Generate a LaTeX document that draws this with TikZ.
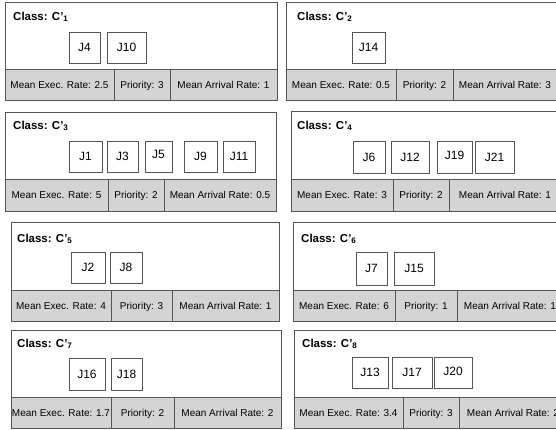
\documentclass[tikz,border=0pt]{standalone}
\usepackage{fontspec}
\setmainfont{Liberation Sans}
\usetikzlibrary{shadows}
\definecolor{band}{RGB}{212,212,212}
\definecolor{edge}{RGB}{85,85,85}
\begin{document}
\begin{tikzpicture}[x=1pt,y=-1pt,
  panel/.style={draw=edge, line width=0.8pt, fill=white},
  bandfill/.style={draw=edge, line width=0.8pt, fill=band},
  divider/.style={draw=edge, line width=0.8pt},
  job/.style={draw=edge, line width=0.7pt, fill=white, inner sep=0pt,
    drop shadow={shadow xshift=1pt,shadow yshift=-1pt,opacity=0.3},
    font=\fontsize{12}{14}\selectfont, text height=8.6pt, text depth=0pt},
  title/.style={anchor=base west, inner sep=0pt, font=\bfseries\fontsize{11.5}{13}\selectfont},
  info/.style={inner sep=0pt, font=\fontsize{10}{12}\selectfont, text height=7.2pt, text depth=0pt}]
\useasboundingbox (0,0) rectangle (556,429);
\clip (0,0) rectangle (556,429);
\fill[white] (0,0) rectangle (556,429);

% ---------- Panel 1 ----------
\draw[panel] (5,2) rectangle (277,100);
\draw[bandfill] (5,69) rectangle (277,100);
\draw[divider] (114,69) -- (114,100) (170,69) -- (170,100);
\node[title] (t1) at (13,20) {Class: C’\textsubscript{1}};
\node[job, minimum width=31pt, minimum height=31pt] (j4) at (84.5,47.5) {J4};
\node[job, minimum width=39pt, minimum height=31pt] (j10) at (126.5,47.5) {J10};
\node[info] (e1) at (59.5,85) {Mean Exec. Rate: 2.5};
\node[info] (p1) at (142,85) {Priority: 3};
\node[info] (a1) at (223.5,85) {Mean Arrival Rate: 1};

% ---------- Panel 2 ----------
\draw[panel] (286,2) rectangle (558,100);
\draw[bandfill] (286,69) rectangle (558,100);
\draw[divider] (396,69) -- (396,100) (453,69) -- (453,100);
\node[title] (t2) at (297,20) {Class: C’\textsubscript{2}};
\node[job, minimum width=33pt, minimum height=31pt] (j14) at (368.5,47.5) {J14};
\node[info] (e2) at (341,85) {Mean Exec. Rate: 0.5};
\node[info] (p2) at (424.5,85) {Priority: 2};
\node[info] (a2) at (505,85) {Mean Arrival Rate: 3};

% ---------- Panel 3 ----------
\draw[panel] (5,112) rectangle (276,211);
\draw[bandfill] (5,179) rectangle (276,211);
\draw[divider] (108,179) -- (108,211) (164,179) -- (164,211);
\node[title] (t3) at (13,129) {Class: C’\textsubscript{3}};
\node[job, minimum width=33pt, minimum height=31pt] (j1) at (85.5,156.5) {J1};
\node[job, minimum width=31pt, minimum height=31pt] (j3) at (122.5,156.5) {J3};
\node[job, minimum width=27pt, minimum height=31pt, text depth=5pt] (j5) at (158.5,156.5) {J5};
\node[job, minimum width=33pt, minimum height=31pt] (j9) at (200.5,156.5) {J9};
\node[job, minimum width=32pt, minimum height=31pt] (j11) at (239,156.5) {J11};
\node[info] (e3) at (56.5,195) {Mean Exec. Rate: 5};
\node[info] (p3) at (136,195) {Priority: 2};
\node[info] (a3) at (220,195) {Mean Arrival Rate: 0.5};

% ---------- Panel 4 ----------
\draw[panel] (291,111) rectangle (561,211);
\draw[bandfill] (291,179) rectangle (561,211);
\draw[divider] (393,179) -- (393,211) (449,179) -- (449,211);
\node[title] (t4) at (297,129) {Class: C’\textsubscript{4}};
\node[job, minimum width=32pt, minimum height=32pt] (j6) at (369,157) {J6};
\node[job, minimum width=38pt, minimum height=32pt] (j12) at (410,157) {J12};
\node[job, minimum width=35pt, minimum height=32pt, text depth=3pt] (j19) at (454.5,157) {J19};
\node[job, minimum width=39pt, minimum height=32pt] (j21) at (494.5,157) {J21};
\node[info] (e4) at (342,195) {Mean Exec. Rate: 3};
\node[info] (p4) at (421,195) {Priority: 2};
\node[info] (a4) at (505,195) {Mean Arrival Rate: 1};

% ---------- Panel 5 ----------
\draw[panel] (11,222) rectangle (279,321);
\draw[bandfill] (11,290) rectangle (279,321);
\draw[divider] (111,290) -- (111,321) (172,290) -- (172,321);
\node[title] (t5) at (17,242) {Class: C’\textsubscript{5}};
\node[job, minimum width=34pt, minimum height=31pt] (j2) at (88,267.5) {J2};
\node[job, minimum width=32pt, minimum height=31pt] (j8) at (126,267.5) {J8};
\node[info] (e5) at (61,305.5) {Mean Exec. Rate: 4};
\node[info] (p5) at (141.5,305.5) {Priority: 3};
\node[info] (a5) at (225.5,305.5) {Mean Arrival Rate: 1};

% ---------- Panel 6 ----------
\draw[panel] (293,222) rectangle (565,321);
\draw[bandfill] (293,290) rectangle (565,321);
\draw[divider] (395,290) -- (395,321) (457,290) -- (457,321);
\node[title] (t6) at (301,242) {Class: C’\textsubscript{6}};
\node[job, minimum width=31pt, minimum height=33pt] (j7) at (371.5,268.5) {J7};
\node[job, minimum width=40pt, minimum height=33pt] (j15) at (414,268.5) {J15};
\node[info] (e6) at (344,305.5) {Mean Exec. Rate: 6};
\node[info] (p6) at (426,305.5) {Priority: 1};
\node[info] (a6) at (510,305.5) {Mean Arrival Rate: 1};

% ---------- Panel 7 ----------
\draw[panel] (11,330) rectangle (281,428);
\draw[bandfill] (11,397) rectangle (281,428);
\draw[divider] (111,397) -- (111,428) (174,397) -- (174,428);
\node[title] (t7) at (17,347) {Class: C’\textsubscript{7}};
\node[job, minimum width=36pt, minimum height=32pt] (j16) at (87,374) {J16};
\node[job, minimum width=31pt, minimum height=32pt] (j18) at (126.5,374) {J18};
\node[info] (e7) at (61,412.5) {Mean Exec. Rate: 1.7};
\node[info] (p7) at (142.5,412.5) {Priority: 2};
\node[info] (a7) at (227.5,412.5) {Mean Arrival Rate: 2};

% ---------- Panel 8 ----------
\draw[panel] (294,330) rectangle (568,428);
\draw[bandfill] (294,397) rectangle (568,428);
\draw[divider] (403,397) -- (403,428) (459,397) -- (459,428);
\node[title] (t8) at (302,347) {Class: C’\textsubscript{8}};
\node[job, minimum width=36pt, minimum height=31pt] (j13) at (370,372.5) {J13};
\node[job, minimum width=40pt, minimum height=31pt] (j17) at (412,372.5) {J17};
\node[job, minimum width=38pt, minimum height=31pt, text depth=3pt] (j20) at (453,372.5) {J20};
\node[info] (e8) at (348.5,412.5) {Mean Exec. Rate: 3.4};
\node[info] (p8) at (431,412.5) {Priority: 3};
\node[info] (a8) at (513,412.5) {Mean Arrival Rate: 2};
\end{tikzpicture}
\end{document}
